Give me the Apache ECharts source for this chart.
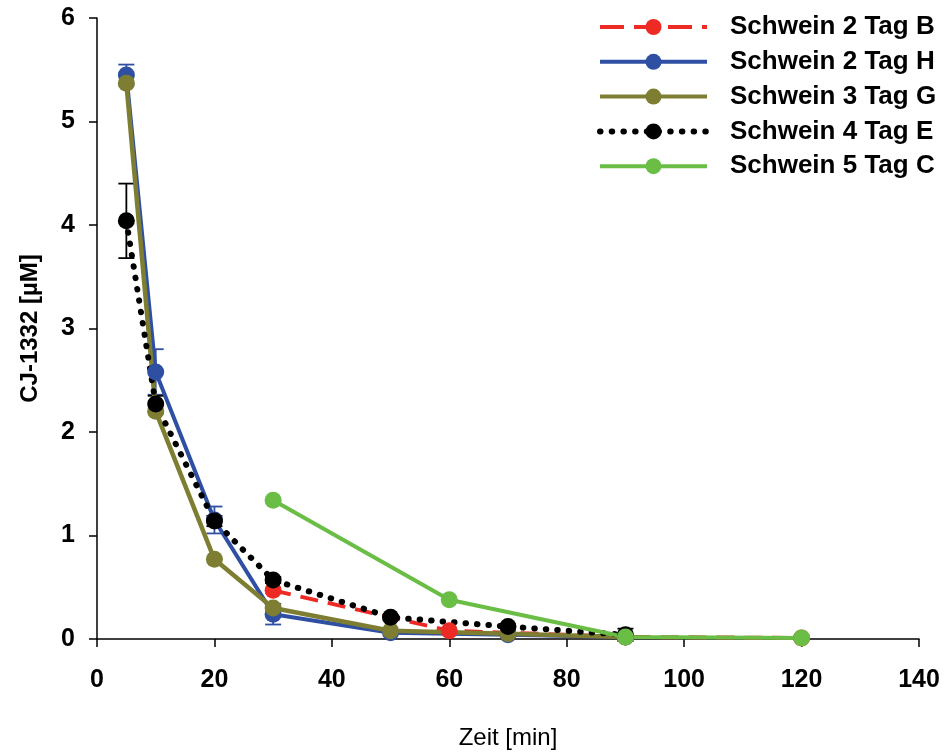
<!DOCTYPE html>
<html>
<head>
<meta charset="utf-8">
<script src="https://cdn.jsdelivr.net/npm/echarts@6/dist/echarts.min.js"></script>
<style>
html,body{margin:0;padding:0;background:#fff;}
#chart{width:947px;height:753px;}
</style>
</head>
<body>
<div id="chart"></div>
<script>
// ---- data ----
var seriesNames = ['Schwein 2 Tag B', 'Schwein 2 Tag H', 'Schwein 3 Tag G', 'Schwein 4 Tag E', 'Schwein 5 Tag C'];

var xB = [30, 60, 90, 120];
var yB = [0.47, 0.08, 0.02, 0.01];

var xH = [5, 10, 20, 30, 50, 70, 90];
var yH = [5.45, 2.58, 1.15, 0.24, 0.06, 0.04, 0.02];
var errH = [0.10, 0.22, 0.13, 0.10, 0, 0, 0];

var xG = [5, 10, 20, 30, 50, 70, 90];
var yG = [5.37, 2.20, 0.77, 0.30, 0.08, 0.05, 0.02];

var xE = [5, 10, 20, 30, 50, 70, 90];
var yE = [4.04, 2.27, 1.14, 0.57, 0.21, 0.12, 0.04];
var errE = [0.36, 0.08, 0.05, 0.03, 0.02, 0.02, 0.06];

var xC = [30, 60, 90, 120];
var yC = [1.34, 0.38, 0.02, 0.01];

var xTicks = [0, 20, 40, 60, 80, 100, 120, 140];
var yTicks = [0, 1, 2, 3, 4, 5, 6];

// ---- chart ----
var colors = {B: '#EE2A24', H: '#2F4FA2', G: '#7E7E33', E: '#000000', C: '#6ABD45'};
function pairs(xs, ys) { return xs.map(function (x, i) { return [x, ys[i]]; }); }
function errData(xs, ys, es) {
  var out = [];
  xs.forEach(function (x, i) { if (es[i] > 0) out.push([x, ys[i] - es[i], ys[i] + es[i]]); });
  return out;
}
function errSeries(name, data, color) {
  return {
    name: name, type: 'custom', data: data, silent: true, z: 2,
    encode: {x: 0, y: [1, 2]},
    renderItem: function (params, api) {
      var lo = api.coord([api.value(0), api.value(1)]);
      var hi = api.coord([api.value(0), api.value(2)]);
      var hw = 8;
      var st = {stroke: color, lineWidth: 1.8};
      return {type: 'group', children: [
        {type: 'line', shape: {x1: lo[0], y1: lo[1], x2: hi[0], y2: hi[1]}, style: st},
        {type: 'line', shape: {x1: lo[0] - hw, y1: lo[1], x2: lo[0] + hw, y2: lo[1]}, style: st},
        {type: 'line', shape: {x1: hi[0] - hw, y1: hi[1], x2: hi[0] + hw, y2: hi[1]}, style: st}
      ]};
    }
  };
}
function lineSeries(name, data, color, width, type, cap) {
  return {
    name: name, type: 'line', data: data, z: 3,
    symbol: 'circle', symbolSize: 17,
    itemStyle: {color: color},
    lineStyle: {color: color, width: width, type: type, cap: cap || 'butt'},
    emphasis: {disabled: true}, animation: false
  };
}

var font = 'Liberation Sans, Arial, sans-serif';
var legendData = seriesNames.map(function (n, i) {
  var o = {name: n};
  if (i === 3) o.lineStyle = {width: 6, type: [0.5, 11.2], cap: 'round'};
  else if (i === 0) o.lineStyle = {width: 4, type: [24, 10]};
  else o.lineStyle = {width: 4};
  return o;
});
var chart = echarts.init(document.getElementById('chart'), null, {renderer: 'canvas'});
chart.setOption({
  animation: false,
  backgroundColor: '#ffffff',
  grid: {left: 97, right: 28, top: 18, bottom: 114, containLabel: false, outerBoundsMode: 'none'},
  legend: {
    data: legendData,
    orient: 'vertical',
    left: 592, top: 9,
    itemWidth: 107, itemHeight: 20, itemGap: 8.8,
    textStyle: {fontFamily: font, fontWeight: 'bold', fontSize: 26, lineHeight: 25, color: '#000', padding: [0, 0, 0, 18]},
    selectedMode: false
  },
  xAxis: {
    type: 'value', min: xTicks[0], max: xTicks[xTicks.length - 1], interval: 20,
    name: 'Zeit [min]', nameLocation: 'middle', nameGap: 87,
    nameTextStyle: {fontFamily: font, fontSize: 24, color: '#000'},
    axisLine: {show: true, lineStyle: {color: '#000', width: 1.5}},
    axisTick: {show: true, inside: false, length: 8, lineStyle: {color: '#000', width: 1.5}},
    axisLabel: {fontFamily: font, fontWeight: 'bold', fontSize: 25, color: '#000', margin: 29},
    splitLine: {show: false}
  },
  yAxis: {
    type: 'value', min: yTicks[0], max: yTicks[yTicks.length - 1], interval: 1,
    name: 'CJ-1332 [µM]', nameLocation: 'middle', nameGap: 55, nameRotate: 90,
    nameTextStyle: {fontFamily: font, fontWeight: 'bold', fontSize: 24, color: '#000'},
    axisLine: {show: true, lineStyle: {color: '#000', width: 1.5}},
    axisTick: {show: true, inside: false, length: 8, lineStyle: {color: '#000', width: 1.5}},
    axisLabel: {fontFamily: font, fontWeight: 'bold', fontSize: 25, color: '#000', margin: 22},
    splitLine: {show: false}
  },
  series: [
    errSeries('errH', errData(xH, yH, errH), colors.H),
    errSeries('errE', errData(xE, yE, errE), colors.E),
    lineSeries(seriesNames[0], pairs(xB, yB), colors.B, 4, [18, 10]),
    lineSeries(seriesNames[1], pairs(xH, yH), colors.H, 4, 'solid'),
    lineSeries(seriesNames[2], pairs(xG, yG), colors.G, 4.5, 'solid'),
    lineSeries(seriesNames[3], pairs(xE, yE), colors.E, 6, [0.5, 11], 'round'),
    lineSeries(seriesNames[4], pairs(xC, yC), colors.C, 4, 'solid')
  ]
});
</script>
</body>
</html>
